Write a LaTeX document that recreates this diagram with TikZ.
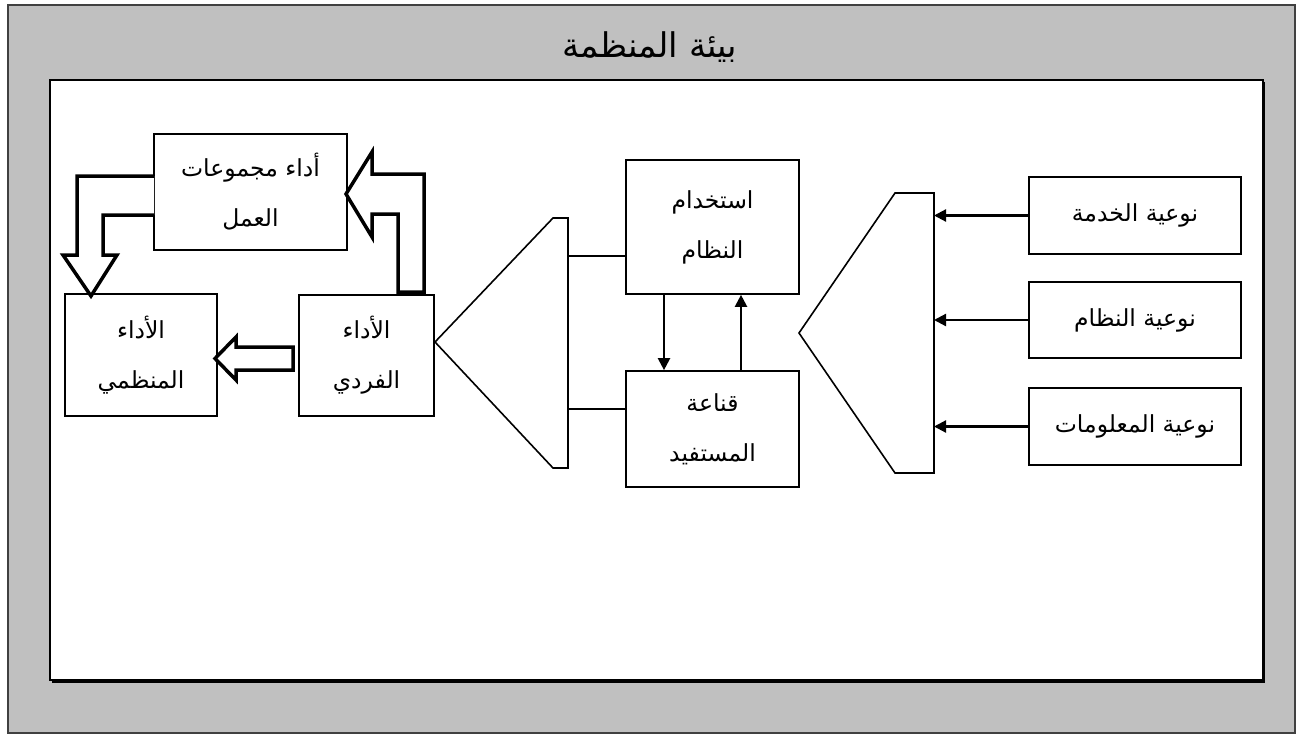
\documentclass[tikz,border=0pt]{standalone}
\usepackage{fontspec}
\newfontfamily\arabicfont[Script=Arabic]{DejaVu Sans}
\TeXXeTstate=1
\usetikzlibrary{arrows.meta}
\definecolor{envgray}{RGB}{192,192,192}
\definecolor{framegray}{RGB}{64,64,64}
\newcommand{\AR}[1]{\beginR #1\endR}
\begin{document}
\begin{tikzpicture}[x=1pt,y=-1pt,
  box/.style={draw=black, line width=1.7pt, fill=white, inner sep=0pt, align=center,
    font=\arabicfont\fontsize{23.5}{50}\selectfont},
  conn/.style={line width=1.6pt},
  arr/.style={line width=2.2pt,-{Triangle[length=12pt,width=12pt]}},
  blockarrow/.style={draw=black,line width=3.5pt,fill=white,line join=miter},
  funnel/.style={draw=black,line width=1.6pt,fill=white}]
\useasboundingbox (0,0) rectangle (1301,736);
% environment
\draw[framegray, line width=2pt, fill=envgray] (8,5) rectangle (1295,733);
\fill[black] (52,82) rectangle (1265,682.5);
\draw[black, line width=1.5pt, fill=white] (50,80) rectangle (1263,680);
\node[font=\arabicfont\fontsize{34}{40}\selectfont] (title) at (650,47) {\AR{بيئة المنظمة}};

% boxes
\node[box, minimum width=193pt, minimum height=116pt] (grp) at (250.5,192) {\AR{أداء مجموعات}\\\AR{العمل}};
\node[box, minimum width=152pt, minimum height=122pt] (org) at (141,355) {\AR{الأداء}\\\AR{المنظمي}};
\node[box, minimum width=135pt, minimum height=121pt] (ind) at (366.5,355.5) {\AR{الأداء}\\\AR{الفردي}};
\node[box, minimum width=173pt, minimum height=134pt] (use) at (712.5,227) {\AR{استخدام}\\\AR{النظام}};
\node[box, minimum width=173pt, minimum height=116pt] (sat) at (712.5,429) {\AR{قناعة}\\\AR{المستفيد}};
\node[box, minimum width=212pt, minimum height=77pt] (q1) at (1135,215.5) {\AR{نوعية الخدمة}};
\node[box, minimum width=212pt, minimum height=76pt] (q2) at (1135,320) {\AR{نوعية النظام}};
\node[box, minimum width=212pt, minimum height=77pt] (q3) at (1135,426.5) {\AR{نوعية المعلومات}};

% funnels
\draw[funnel] (435,342) coordinate (F1tip) -- (553,218) -- (568,218) coordinate (F1top) -- (568,468) -- (553,468) -- cycle;
\draw[funnel] (799,333) coordinate (F2tip) -- (895,193) -- (934,193) coordinate (F2top) -- (934,473) -- (895,473) -- cycle;

% connectors right
\draw[arr] (q1.west) -- (q1.west -| F2top);
\draw[arr] (q2.west) -- (q2.west -| F2top);
\draw[arr] (q3.west) -- (q3.west -| F2top);

% usage <-> satisfaction
\draw[arr] ([xshift=-48.5pt]use.south) -- ([xshift=-48.5pt]sat.north);
\draw[arr] ([xshift=28.5pt]sat.north) -- ([xshift=28.5pt]use.south);

% lines to funnel
\draw[conn] ([yshift=-29pt]use.west) -- ++(-58,0);
\draw[conn] ([yshift=20pt]sat.west) -- ++(-58,0);

% block arrows
\draw[blockarrow] (215,358.5) -- (236,337) -- (236,347) -- (293,347) -- (293,370) -- (236,370) -- (236,380) -- cycle;
\draw[blockarrow] (154,176) -- (77,176) -- (77,255) -- (63,255) -- (91,296) -- (117,255) -- (103,255) -- (103,215) -- (154,215);
\draw[blockarrow] (346,194) -- (372,152) -- (372,174) -- (424,174) -- (424,292) -- (398,292) -- (398,214) -- (372,214) -- (372,237) -- cycle;
\end{tikzpicture}
\end{document}
